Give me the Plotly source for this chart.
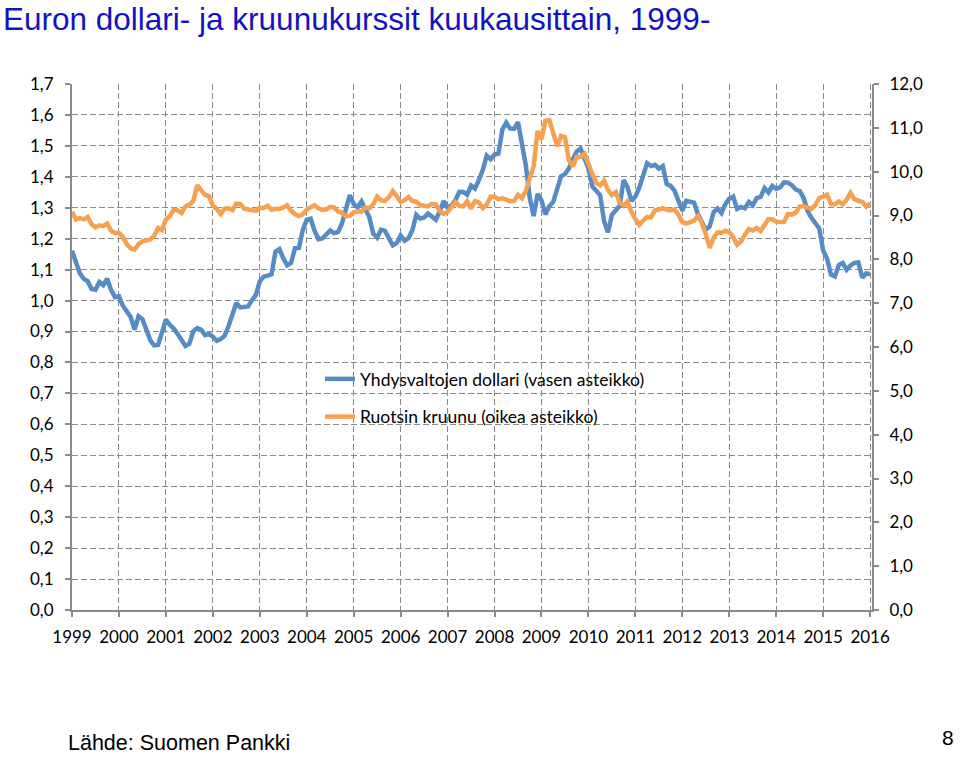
import plotly.graph_objects as go

# Monthly data, Jan 1999 - Jan 2016
start_year = 1999
usd = [
    1.1608, 1.1208, 1.0883, 1.0704, 1.0628, 1.0378, 1.0353, 1.0604, 1.0501, 1.0706, 1.0338, 1.0110,
    1.0137, 0.9834, 0.9643, 0.9470, 0.9060, 0.9492, 0.9397, 0.9041, 0.8721, 0.8552, 0.8564, 0.8973,
    0.9383, 0.9217, 0.9095, 0.8920, 0.8742, 0.8532, 0.8607, 0.9005, 0.9111, 0.9059, 0.8883, 0.8924,
    0.8833, 0.8700, 0.8758, 0.8858, 0.9170, 0.9554, 0.9922, 0.9778, 0.9808, 0.9811, 1.0014, 1.0183,
    1.0622, 1.0773, 1.0807, 1.0848, 1.1582, 1.1663, 1.1372, 1.1139, 1.1222, 1.1692, 1.1702, 1.2286,
    1.2613, 1.2646, 1.2262, 1.1985, 1.2007, 1.2138, 1.2266, 1.2176, 1.2218, 1.2490, 1.2991, 1.3408,
    1.3119, 1.3014, 1.3201, 1.2938, 1.2694, 1.2165, 1.2037, 1.2292, 1.2256, 1.2015, 1.1786, 1.1856,
    1.2103, 1.1938, 1.2020, 1.2271, 1.2770, 1.2650, 1.2684, 1.2811, 1.2727, 1.2611, 1.2881, 1.3213,
    1.2999, 1.3074, 1.3242, 1.3516, 1.3511, 1.3419, 1.3716, 1.3622, 1.3896, 1.4227, 1.4684, 1.4570,
    1.4718, 1.4748, 1.5527, 1.5751, 1.5557, 1.5553, 1.5770, 1.4975, 1.4370, 1.3322, 1.2732, 1.3449,
    1.3239, 1.2785, 1.3050, 1.3190, 1.3650, 1.4016, 1.4088, 1.4268, 1.4562, 1.4816, 1.4914, 1.4614,
    1.4272, 1.3686, 1.3569, 1.3406, 1.2565, 1.2209, 1.2770, 1.2894, 1.3067, 1.3898, 1.3661, 1.3220,
    1.3360, 1.3649, 1.3999, 1.4442, 1.4349, 1.4388, 1.4264, 1.4343, 1.3770, 1.3706, 1.3556, 1.3179,
    1.2905, 1.3224, 1.3201, 1.3162, 1.2789, 1.2526, 1.2288, 1.2400, 1.2856, 1.2974, 1.2828, 1.3119,
    1.3288, 1.3359, 1.2964, 1.3026, 1.2982, 1.3189, 1.3080, 1.3310, 1.3348, 1.3635, 1.3493, 1.3704,
    1.3610, 1.3659, 1.3823, 1.3813, 1.3732, 1.3592, 1.3539, 1.3316, 1.2901, 1.2673, 1.2472, 1.2331,
    1.1621, 1.1350, 1.0838, 1.0779, 1.1150, 1.1213, 1.0996, 1.1139, 1.1221, 1.1235, 1.0736, 1.0877,
    1.0860,
]
sek = [
    9.0826, 8.9077, 8.9403, 8.9120, 8.9669, 8.7994, 8.7308, 8.7758, 8.7576, 8.8184, 8.6512, 8.5985,
    8.5982, 8.5097, 8.3476, 8.2517, 8.2217, 8.3493, 8.4082, 8.4387, 8.4534, 8.5345, 8.7149, 8.6686,
    8.9122, 8.9806, 9.1340, 9.1189, 9.0572, 9.2067, 9.2486, 9.3322, 9.6900, 9.5800, 9.4673, 9.4400,
    9.2275, 9.1528, 9.0365, 9.1581, 9.1661, 9.1223, 9.2730, 9.2641, 9.1575, 9.1342, 9.1322, 9.1070,
    9.1767, 9.1735, 9.2221, 9.1320, 9.1542, 9.1474, 9.1854, 9.2346, 9.1072, 9.0284, 8.9869, 9.0228,
    9.1368, 9.1763, 9.2346, 9.1653, 9.1277, 9.1430, 9.1962, 9.1861, 9.0920, 9.0620, 8.9809, 8.9924,
    9.0740, 9.0957, 9.0887, 9.1863, 9.1670, 9.2573, 9.4300, 9.3451, 9.3330, 9.4197, 9.5573, 9.4436,
    9.3106, 9.3485, 9.4217, 9.3311, 9.3146, 9.2349, 9.2170, 9.2098, 9.2665, 9.2533, 9.1008, 9.0377,
    9.0795, 9.1896, 9.2992, 9.2163, 9.2061, 9.3237, 9.1581, 9.3308, 9.2954, 9.1695, 9.2505, 9.4329,
    9.4272, 9.3699, 9.3900, 9.3633, 9.3273, 9.3338, 9.4707, 9.3945, 9.5553, 9.8506, 10.1275, 10.9262,
    10.7372, 11.1639, 11.1767, 10.8796, 10.5807, 10.8185, 10.7868, 10.2621, 10.1210, 10.3333, 10.3400, 10.4101,
    10.1463, 9.9479, 9.7417, 9.6870, 9.7926, 9.5840, 9.4665, 9.5332, 9.2856, 9.2241, 9.3161, 9.0795,
    8.9182, 8.7882, 8.8864, 8.9702, 8.9571, 9.1125, 9.1340, 9.1655, 9.1343, 9.1138, 9.1387, 9.0184,
    8.8503, 8.8196, 8.8503, 8.8859, 8.9853, 8.8223, 8.5702, 8.2594, 8.4929, 8.6145, 8.6076, 8.6512,
    8.6212, 8.5083, 8.3324, 8.4067, 8.5626, 8.6925, 8.6575, 8.7144, 8.6461, 8.8064, 8.9194, 8.9122,
    8.8582, 8.8509, 8.8575, 9.0298, 9.0205, 9.0689, 9.2036, 9.2146, 9.1733, 9.1517, 9.2394, 9.3999,
    9.4320, 9.4774, 9.2623, 9.2566, 9.3184, 9.2527, 9.3627, 9.5155, 9.3685, 9.3277, 9.3075, 9.2036,
    9.2816,
]
years = list(range(1999, 2017))
year_labels = [str(y) for y in years]
left_ticks = [round(i * 0.1, 1) for i in range(18)]
right_ticks = list(range(13))

series_names = ["Yhdysvaltojen dollari (vasen asteikko)", "Ruotsin kruunu (oikea asteikko)"]
title_text = "Euron dollari- ja kruunukurssit kuukausittain, 1999-"
source_text = "Lähde: Suomen Pankki"
page_number = "8"

x_usd = [start_year + i / 12 for i in range(len(usd))]
x_sek = [start_year + i / 12 for i in range(len(sek))]

BLUE = "#568BC6"
ORANGE = "#F7A050"
GRID = "#8A8A8A"
AXIS = "#8A8A8A"
FONT = "Lato, 'Open Sans', sans-serif"
ARIAL = "'Liberation Sans', Arial, sans-serif"

W, H = 960, 757
L, R, T, B = 72, 88, 84, 147
pw, ph = W - L - R, H - T - B


def px_x(px):
    return (px - L) / pw


def px_y(py):
    return (H - B - py) / ph


fig = go.Figure()
fig.add_trace(go.Scatter(x=x_usd, y=usd, mode="lines", name=series_names[0],
                         line=dict(color=BLUE, width=4.5), legendgroup="a", yaxis="y"))
fig.add_trace(go.Scatter(x=x_sek, y=sek, mode="lines", name=series_names[1],
                         line=dict(color=ORANGE, width=4.5), legendgroup="b", yaxis="y2"))

axis_common = dict(ticks="outside", ticklen=5, tickcolor=AXIS, tickwidth=1.5,
                   showline=True, linecolor=AXIS, linewidth=2, zeroline=False,
                   tickfont=dict(family=FONT, size=17, color="#000000"))

fig.update_layout(
    width=W, height=H,
    margin=dict(l=L, r=R, t=T, b=B),
    paper_bgcolor="white", plot_bgcolor="white",
    separators=", ",
    font=dict(family=FONT, size=17, color="#000000"),
    showlegend=True,
    legend=dict(x=px_x(320), y=px_y(361), xanchor="left", yanchor="top",
                bgcolor="rgba(0,0,0,0)", font=dict(family=FONT, size=17.5, color="#000000"),
                tracegroupgap=12, traceorder="grouped"),
    xaxis=dict(range=[1999, 2016.04], tickmode="array", tickvals=years, ticktext=year_labels,
               showgrid=True, gridcolor=GRID, griddash="6px,3px", gridwidth=1.4,
               ticklabelstandoff=6, **axis_common),
    yaxis=dict(range=[0, 1.7], tickmode="array", tickvals=left_ticks, tickformat=".1f",
               showgrid=True, gridcolor=GRID, griddash="6px,3px", gridwidth=1.4,
               ticklabelstandoff=8, **axis_common),
    yaxis2=dict(range=[0, 12], tickmode="array", tickvals=right_ticks, tickformat=".1f",
                overlaying="y", side="right", showgrid=False,
                ticklabelstandoff=7, **axis_common),
    shapes=[dict(type="rect", xref="paper", yref="paper",
                 x0=px_x(270), x1=px_x(707), y0=px_y(438), y1=px_y(358),
                 fillcolor="white", line=dict(width=0), layer="between")],
    annotations=[
        dict(text=title_text, xref="paper", yref="paper", x=px_x(1), y=px_y(19),
             xanchor="left", yanchor="middle", showarrow=False,
             font=dict(family=ARIAL, size=31.5, color="#1212C4")),
        dict(text=source_text, xref="paper", yref="paper", x=px_x(66), y=px_y(743),
             xanchor="left", yanchor="middle", showarrow=False,
             font=dict(family=ARIAL, size=21.5, color="#000000")),
        dict(text=page_number, xref="paper", yref="paper", x=px_x(956), y=px_y(737),
             xanchor="right", yanchor="middle", showarrow=False,
             font=dict(family=ARIAL, size=21, color="#000000")),
    ],
)

# Remove the browser's default page margin so the figure sits at the window's top-left corner
fig.write_html("out.html", config={"displayModeBar": False},
               post_script="document.body.style.margin='0';document.body.style.overflow='hidden';")
